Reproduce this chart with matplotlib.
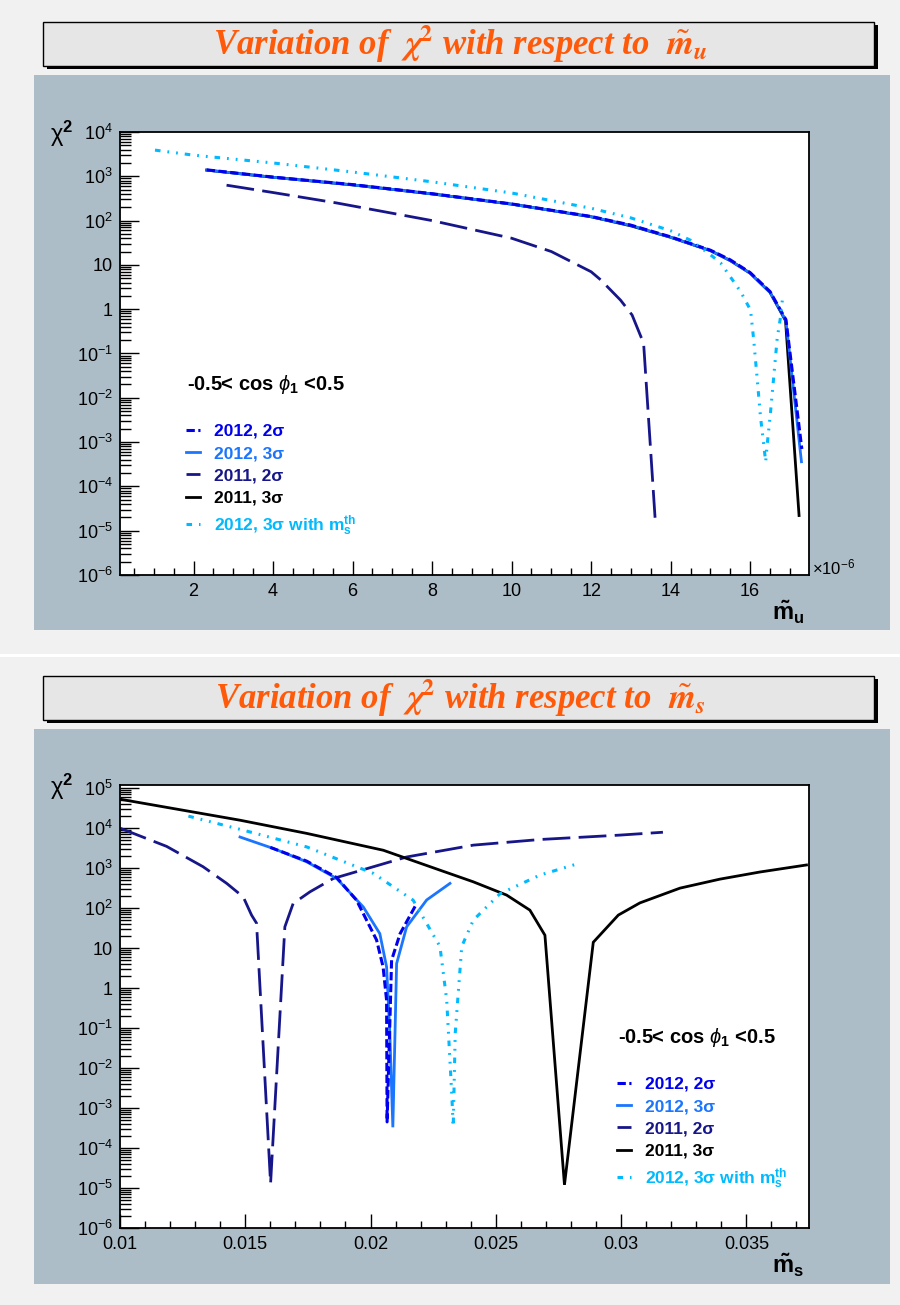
import numpy as np
import matplotlib
matplotlib.use("Agg")
import matplotlib.pyplot as plt
from matplotlib.patches import Rectangle
from matplotlib.lines import Line2D
from matplotlib.ticker import MultipleLocator, FuncFormatter, LogLocator, NullFormatter, FormatStrFormatter

# ---------------- data (top: m_u in units of 1e-6) ----------------
mu_2012_2s_x = [2.33, 4, 6, 8, 10, 12, 13, 14, 15, 15.5, 16, 16.5, 16.9, 17.30]
mu_2012_2s_y = [1400, 960, 650, 405, 238, 124, 79, 43, 21.5, 13, 6.7, 2.5, 0.58, 7e-4]
mu_2012_3s_x = [2.33, 4, 6, 8, 10, 12, 13, 14, 15, 15.5, 16, 16.5, 16.9, 17.29]
mu_2012_3s_y = [1380, 950, 640, 400, 235, 122, 78, 42, 21, 12.5, 6.5, 2.4, 0.55, 3.6e-4]
mu_2011_2s_x = [2.83, 4, 5.6, 8, 10, 11, 12, 12.24, 12.74, 13.03, 13.32, 13.62]
mu_2011_2s_y = [630, 430, 250, 100, 40, 20, 7, 4.6, 1.6, 0.74, 0.17, 1.35e-5]
mu_2011_3s_x = [2.33, 4, 6, 8, 10, 12, 13, 14, 15, 15.5, 16, 16.5, 16.89, 17.23]
mu_2011_3s_y = [1380, 950, 640, 400, 235, 122, 76, 42, 21, 12.5, 6.5, 2.4, 0.55, 2.2e-5]
mu_ms_x = [1.03, 2, 4, 6, 8, 10, 12, 13, 14, 14.5, 15, 15.26, 15.76, 16.01, 16.09,
           16.18, 16.26, 16.34, 16.39, 16.43, 16.51, 16.60, 16.68, 16.76, 16.81]
mu_ms_y = [3900, 3000, 2000, 1250, 750, 420, 190, 115, 59, 36, 17, 11, 2.5, 0.95, 0.2,
           0.025, 3.7e-3, 9e-4, 3.6e-4, 9e-4, 4.5e-3, 0.035, 0.22, 0.63, 1.6]

# ---------------- data (bottom: m_s) ----------------
ms_2012_2s_x = [0.0160, 0.01745, 0.01865, 0.01944, 0.02024, 0.0205, 0.02064, 0.02066, 0.02084, 0.02118, 0.02184]
ms_2012_2s_y = [3300, 1500, 580, 158, 16, 3.4, 0.5, 4.5e-4, 5, 23, 130]
ms_2012_3s_x = [0.01479, 0.01612, 0.01745, 0.01865, 0.01971, 0.02037, 0.02064, 0.02077, 0.02089, 0.02104, 0.02144, 0.02224, 0.02317]
ms_2012_3s_y = [6000, 3100, 1440, 550, 107, 23, 3.4, 0.074, 3.3e-4, 4.1, 34, 160, 415]
ms_2011_2s_x = [0.0100, 0.01186, 0.01332, 0.01426, 0.01492, 0.01525, 0.01545, 0.01601, 0.01658, 0.01691,
                0.01758, 0.01851, 0.02144, 0.0241, 0.02676, 0.02995, 0.03167]
ms_2011_2s_y = [10000, 3500, 1080, 415, 190, 67, 42, 1.3e-5, 34, 130, 255, 550, 1900, 3760, 5200, 6700, 7900]
ms_2011_3s_x = [0.0100, 0.01479, 0.01745, 0.02051, 0.02277, 0.0241, 0.02543, 0.02636, 0.02696, 0.02774,
                0.02889, 0.02989, 0.03075, 0.03235, 0.03394, 0.03554, 0.0374]
ms_2011_3s_y = [53000, 15800, 7400, 2800, 890, 455, 212, 89, 21, 1.2e-5, 14, 67, 135, 316, 530, 800, 1200]
ms_ms_x = [0.01273, 0.01492, 0.01745, 0.02011, 0.0217, 0.02277, 0.02304, 0.02324, 0.0233, 0.02338,
           0.02364, 0.0241, 0.02517, 0.02676, 0.02829]
ms_ms_y = [20000, 8900, 3400, 740, 158, 11, 0.5, 2.3e-3, 3.4e-4, 0.074, 11, 50, 230, 670, 1300]

labels = ["2012, 2σ", "2012, 3σ", "2011, 2σ", "2011, 3σ",
          r"2012, 3σ with $\mathbf{m}_{\mathbf{s}}^{\mathbf{th}}$"]
header = r"-0.5< cos $\phi_{\mathbf{1}}$ <0.5"
titles = [r"Variation of  $\boldsymbol{\chi}^{\mathbf{2}}$ with respect to  $\tilde{\boldsymbol{m}}_{\boldsymbol{u}}$",
          r"Variation of  $\boldsymbol{\chi}^{\mathbf{2}}$ with respect to  $\tilde{\boldsymbol{m}}_{\boldsymbol{s}}$"]
xlabels = [r"$\mathbf{\tilde{m}_{u}}$", r"$\mathbf{\tilde{m}_{s}}$"]

# ---------------- styles ----------------
plt.rcParams.update({
    'font.family': ['Liberation Sans', 'DejaVu Sans'],
    'mathtext.fontset': 'custom',
    'mathtext.rm': 'Liberation Sans',
    'mathtext.it': 'Liberation Sans:italic',
    'mathtext.bf': 'Liberation Sans:bold',
    'lines.scale_dashes': False,
})
styles = [
    dict(color='#0000ee', ls=(0, (6, 2.5)), lw=2.2),            # 2012 2s
    dict(color='#1a75ff', ls='-', lw=2.0),                       # 2012 3s
    dict(color='#16168a', ls=(0, (20, 6)), lw=2.0),              # 2011 2s
    dict(color='black', ls='-', lw=2.0),                         # 2011 3s
    dict(color='#00baff', ls=(0, (4, 5, 1.3, 5, 1.3, 5)), lw=2.2),  # with m_s^th
]
zorders = [4, 3, 2, 2.5, 5]

W, H = 900, 1305
fig = plt.figure(figsize=(9, 13.05), dpi=100, facecolor='#f1f1f1')


def rect_px(x0, y0, x1, y1):
    return [x0 / W, 1 - y1 / H, (x1 - x0) / W, (y1 - y0) / H]


def add_rect(x0, y0, x1, y1, **kw):
    r = rect_px(x0, y0, x1, y1)
    fig.add_artist(Rectangle((r[0], r[1]), r[2], r[3], transform=fig.transFigure, **kw))


# separator
add_rect(0, 654, 900, 657, facecolor='white', edgecolor='none', zorder=0)
panel_bg = '#adbdc7'
for (py0, tb) in [(0, 0), (654, 1)]:
    add_rect(34, 75 + py0, 890, 630 + py0, facecolor=panel_bg, edgecolor='none', zorder=0)
    # title box with shadow
    add_rect(47, 25 + py0, 878, 69 + py0, facecolor='black', edgecolor='none', zorder=0.5)
    add_rect(43, 22 + py0, 874, 66 + py0, facecolor='#e6e6e6', edgecolor='black', lw=1.0, zorder=0.6)
    fig.text(460 / W, 1 - (44 + py0) / H, titles[tb], ha='center', va='center', fontsize=25,
             color='#ff5a0a', family='Liberation Serif', weight='bold', style='italic',
             math_fontfamily='stix', zorder=1)


def log_label(v, pos):
    e = int(round(np.log10(v)))
    if e == 0:
        return '1'
    if e == 1:
        return '10'
    return r'$10^{%d}$' % e


def style_axes(ax):
    ax.set_yscale('log')
    for s in ax.spines.values():
        s.set_linewidth(1.3)
        s.set_color('black')
    ax.tick_params(which='both', direction='in', top=False, right=False, labelsize=13, width=1.0)
    ax.tick_params(axis='y', which='major', length=14, pad=5)
    ax.tick_params(axis='y', which='minor', length=8)
    ax.tick_params(axis='x', which='major', length=10, pad=6)
    ax.tick_params(axis='x', which='minor', length=5)
    ax.yaxis.set_major_locator(LogLocator(base=10, numticks=30))
    ax.yaxis.set_minor_locator(LogLocator(base=10, subs=np.arange(2, 10), numticks=30))
    ax.yaxis.set_minor_formatter(NullFormatter())
    ax.yaxis.set_major_formatter(FuncFormatter(log_label))


series_top = [(mu_2012_2s_x, mu_2012_2s_y), (mu_2012_3s_x, mu_2012_3s_y), (mu_2011_2s_x, mu_2011_2s_y),
              (mu_2011_3s_x, mu_2011_3s_y), (mu_ms_x, mu_ms_y)]
series_bot = [(ms_2012_2s_x, ms_2012_2s_y), (ms_2012_3s_x, ms_2012_3s_y), (ms_2011_2s_x, ms_2011_2s_y),
              (ms_2011_3s_x, ms_2011_3s_y), (ms_ms_x, ms_ms_y)]

ax1 = fig.add_axes(rect_px(120, 132, 809, 575))
ax2 = fig.add_axes(rect_px(120, 785, 809, 1228))

for ax, series, leg_x, head_x, xl in [(ax1, series_top, 0.096, 0.212, xlabels[0]),
                                       (ax2, series_bot, 0.721, 0.837, xlabels[1])]:
    style_axes(ax)
    handles = []
    for (xs, ys), st, z, lab in zip(series, styles, zorders, labels):
        ax.plot(xs, ys, solid_joinstyle='miter', zorder=z, **st)
        handles.append(Line2D([], [], **st))
    ax.legend(handles, labels, loc='upper left', bbox_to_anchor=(leg_x, 0.342),
              frameon=False, prop=dict(weight='bold', size=12.5), handlelength=0.8,
              handletextpad=0.8, labelspacing=0.42, labelcolor='linecolor',
              borderpad=0, borderaxespad=0)
    ax.text(head_x, 0.429, header, transform=ax.transAxes, ha='center', va='center',
            fontsize=14.5, weight='bold')
    ax.text(-0.084, 0.995, r"$\mathrm{\chi}^{\mathbf{2}}$", transform=ax.transAxes,
            ha='center', va='center', fontsize=17)
    ax.text(0.970, -0.084, xl, transform=ax.transAxes, ha='center', va='center', fontsize=17)

ax1.set_xlim(0.15, 17.48)
ax1.set_ylim(1e-6, 1e4)
ax1.xaxis.set_major_locator(MultipleLocator(2))
ax1.xaxis.set_minor_locator(MultipleLocator(0.5))
ax1.xaxis.set_major_formatter(FormatStrFormatter('%d'))
ax1.text(1.004, 0.016, r"$\times$10$^{-6}$", transform=ax1.transAxes, ha='left', va='center', fontsize=12)

ax2.set_xlim(0.01, 0.0375)
ax2.set_ylim(1e-6, 1.2e5)
ax2.xaxis.set_major_locator(MultipleLocator(0.005))
ax2.xaxis.set_minor_locator(MultipleLocator(0.001))
ax2.xaxis.set_major_formatter(FuncFormatter(lambda v, p: '%g' % round(v, 4)))

fig.savefig('out.png', dpi=100, facecolor=fig.get_facecolor())
